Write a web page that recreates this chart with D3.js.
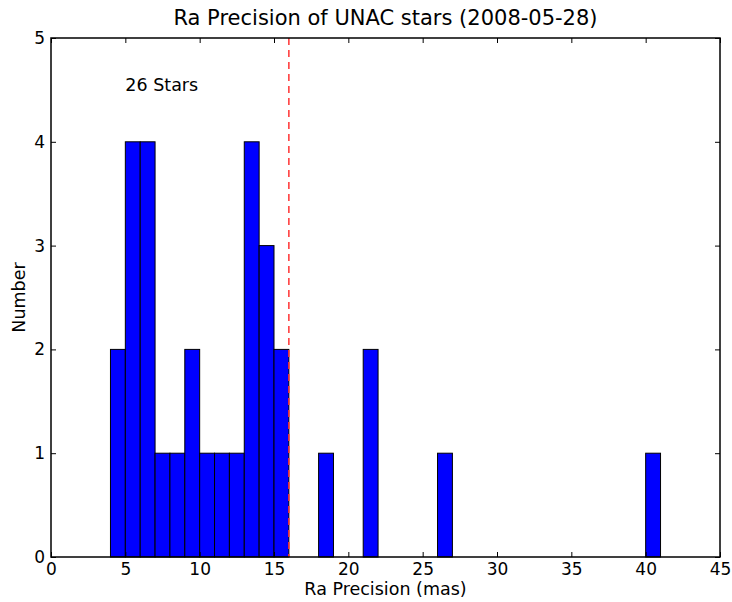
<!DOCTYPE html>
<html>
<head>
<meta charset="utf-8">
<script src="https://cdn.jsdelivr.net/npm/d3@7"></script>
<style>
  body { margin: 0; background: #fff; }
  text { font-family: "DejaVu Sans", sans-serif; fill: #000; }
</style>
</head>
<body>
<svg id="chart" width="732" height="602"></svg>
<script>
// histogram bins (left edge, mas) and counts
const binStarts = [4, 5, 6, 7, 8, 9, 10, 11, 12, 13, 14, 15, 18, 21, 26, 40];
const counts    = [2, 4, 4, 1, 1, 2, 1, 1, 1, 4, 3, 2, 1, 2, 1, 1];
const binWidth = 1;
const xTicks = [0, 5, 10, 15, 20, 25, 30, 35, 40, 45];
const yTicks = [0, 1, 2, 3, 4, 5];
const cutoff = 16;
const starLabel = '26 Stars';

const svg = d3.select('#chart');
const m = { left: 51, right: 12, top: 38, bottom: 45 };
const width = 732, height = 602;

const x = d3.scaleLinear().domain([0, 45]).range([m.left, width - m.right]);
const y = d3.scaleLinear().domain([0, 5]).range([height - m.bottom, m.top]);

// bars
svg.append('g').selectAll('rect')
  .data(binStarts).enter().append('rect')
  .attr('x', d => x(d))
  .attr('y', (d, i) => y(counts[i]))
  .attr('width', d => x(d + binWidth) - x(d))
  .attr('height', (d, i) => y(0) - y(counts[i]))
  .attr('fill', '#0000ff').attr('stroke', '#000').attr('stroke-width', 1);

// cutoff line
svg.append('line')
  .attr('x1', x(cutoff)).attr('x2', x(cutoff))
  .attr('y1', y(5)).attr('y2', y(0))
  .attr('stroke', '#ff3333').attr('stroke-width', 1.5)
  .attr('stroke-dasharray', '7,5');

// axes, ticks pointing in (matplotlib classic)
const tl = 5;
svg.append('g').attr('transform', `translate(0,${y(0)})`)
  .call(d3.axisBottom(x).tickValues(xTicks).tickSizeInner(-tl).tickSizeOuter(0).tickPadding(6))
  .call(g => g.select('.domain').remove());
svg.append('g').attr('transform', `translate(0,${y(5)})`)
  .call(d3.axisTop(x).tickValues(xTicks).tickSizeInner(-tl).tickSizeOuter(0).tickFormat(''))
  .call(g => g.select('.domain').remove());
svg.append('g').attr('transform', `translate(${x(0)},0)`)
  .call(d3.axisLeft(y).tickValues(yTicks).tickSizeInner(-tl).tickSizeOuter(0).tickPadding(6).tickFormat(d3.format('d')))
  .call(g => g.select('.domain').remove());
svg.append('g').attr('transform', `translate(${x(45)},0)`)
  .call(d3.axisRight(y).tickValues(yTicks).tickSizeInner(-tl).tickSizeOuter(0).tickFormat(''))
  .call(g => g.select('.domain').remove());
svg.selectAll('.tick text').attr('font-size', 17).attr('font-family', '"DejaVu Sans", sans-serif');
svg.selectAll('.tick line').attr('stroke', '#000');

// frame
svg.append('rect')
  .attr('x', x(0)).attr('y', y(5))
  .attr('width', x(45) - x(0)).attr('height', y(0) - y(5))
  .attr('fill', 'none').attr('stroke', '#000').attr('stroke-width', 1.5);

// text
svg.append('text').attr('x', (x(0) + x(45)) / 2).attr('y', 25)
  .attr('text-anchor', 'middle').attr('font-size', 21)
  .text('Ra Precision of UNAC stars (2008-05-28)');
svg.append('text').attr('x', (x(0) + x(45)) / 2).attr('y', 595)
  .attr('text-anchor', 'middle').attr('font-size', 17.5)
  .text('Ra Precision (mas)');
svg.append('text').attr('transform', `translate(25,${(y(0) + y(5)) / 2}) rotate(-90)`)
  .attr('text-anchor', 'middle').attr('font-size', 17.5)
  .text('Number');
svg.append('text').attr('x', x(5)).attr('y', y(4.5) + 1)
  .attr('font-size', 17.5)
  .text(starLabel);
</script>
</body>
</html>
